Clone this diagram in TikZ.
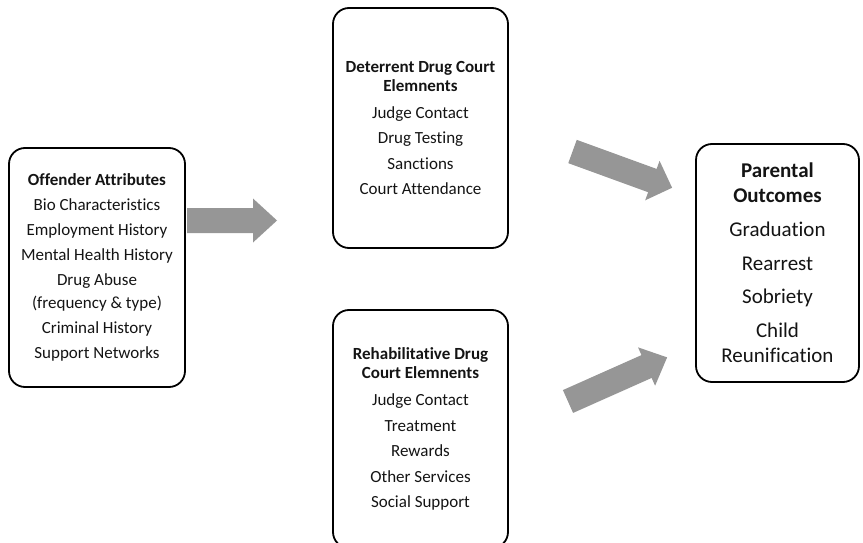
\documentclass[tikz,border=0pt]{standalone}
\usepackage{fontspec}
\setmainfont{Carlito}[Ligatures=NoCommon]
\definecolor{arrowgray}{RGB}{150,150,150}
\definecolor{inkcol}{RGB}{20,20,20}
\begin{document}
\begin{tikzpicture}[x=1pt,y=-1pt,
  box/.style={draw=black, line width=1.8pt, rounded corners=16pt, align=center,
    inner sep=0pt, text=inkcol},
  smalltext/.style={font=\fontsize{17}{19}\selectfont},
  blockarrow/.style={fill=arrowgray, draw=none}]
\useasboundingbox (0,0) rectangle (863,543);
\clip (0,0) rectangle (863,543);

% boxes
\node[box, minimum width=176pt, minimum height=239pt,
  font=\fontsize{17}{23}\selectfont] (offender) at (97,267.5)
  {\textbf{Offender Attributes}\\[2pt] Bio Characteristics\\[2pt] Employment History\\[2pt]
   Mental Health History\\[2pt] Drug Abuse\\ (frequency \& type)\\[2pt]
   Criminal History\\[2pt] Support Networks};

\node[box, smalltext, minimum width=175pt, minimum height=240pt] (deterrent) at (420.5,128)
  {\textbf{Deterrent Drug Court}\\ \textbf{Elemnents}\\[8pt] Judge Contact\\[6.5pt]
   Drug Testing\\[6.5pt] Sanctions\\[6.5pt] Court Attendance};

\node[box, smalltext, minimum width=175pt, minimum height=238pt] (rehab) at (420.5,429)
  {\textbf{Rehabilitative Drug}\\ \textbf{Court Elemnents}\\[8pt] Judge Contact\\[6.5pt]
   Treatment\\[6.5pt] Rewards\\[6.5pt] Other Services\\[6.5pt] Social Support};

\node[box, minimum width=163pt, minimum height=238pt,
  font=\fontsize{21}{25}\selectfont] (outcomes) at (777.5,263)
  {\textbf{Parental}\\ \textbf{Outcomes}\\[9pt] Graduation\\[9pt] Rearrest\\[8pt]
   Sobriety\\[9pt] Child\\ Reunification};

% block arrows
\fill[blockarrow, shift={(187,220.5)}]
  (0,-12.5) -- (66,-12.5) -- (66,-22) -- (90,0) -- (66,22) -- (66,12.5) -- (0,12.5) -- cycle;
\fill[blockarrow, shift={(572.5,151.5)}, rotate=-20]
  (0,-12.4) -- (85,-12.4) -- (85,-21) -- (106,0) -- (85,21) -- (85,12.4) -- (0,12.4) -- cycle;
\fill[blockarrow, shift={(568,401.5)}, rotate=24]
  (0,-12.5) -- (86,-12.5) -- (86,-21) -- (108.5,0) -- (86,21) -- (86,12.5) -- (0,12.5) -- cycle;
\end{tikzpicture}
\end{document}
